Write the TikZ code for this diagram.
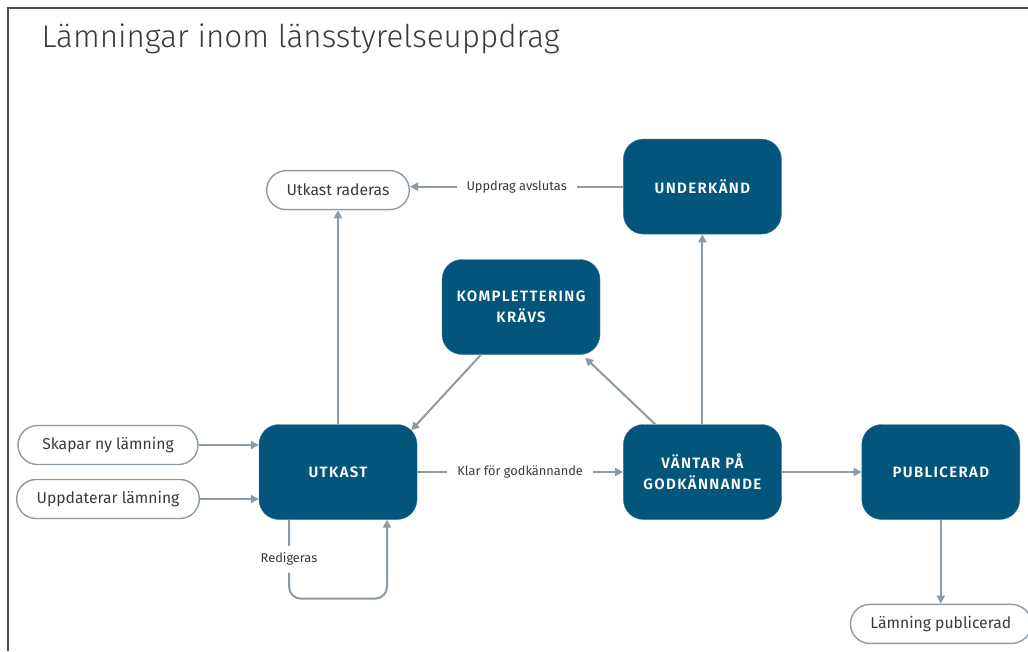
\documentclass[tikz,border=0pt]{standalone}
\usepackage{fontspec}
\setmainfont{Fira Sans}
\newfontfamily\titlefont{Fira Sans Light}
\newfontfamily\statefont[LetterSpace=9]{Fira Sans SemiBold}
\usetikzlibrary{positioning,arrows.meta}
\definecolor{lblue}{HTML}{03557C}
\definecolor{lgrey}{HTML}{8C9AA6}
\definecolor{ltext}{HTML}{3A3A3A}
\tikzset{state/.style={rectangle,rounded corners=20pt,fill=lblue,draw=lblue!80!white,
		minimum width=158pt,minimum height=95pt,align=center,text=white,
		font=\statefont\fontsize{15}{21}\selectfont},
	 endstate/.style={rectangle,rounded corners=19.5pt,draw=lgrey,line width=1.4pt,
		minimum height=39pt,inner xsep=20pt,text=ltext,font=\fontsize{15.7}{18}\selectfont},
	 arr/.style={draw=lgrey,line width=2pt,-{Triangle[length=8pt,width=8pt]}},
	 lbl/.style={fill=white,inner xsep=10pt,inner ysep=5pt,text=ltext,font=\fontsize{12.8}{15}\selectfont}
	 }

\begin{document}
\begin{tikzpicture}[x=1pt,y=-1pt] % statusflode
	\useasboundingbox (0,0) rectangle (1028,651);
	\draw[line width=1.5pt,black!70] (8,651) -- (8,8) -- (1028,8);
	\node[anchor=base west,text=ltext,font=\titlefont\fontsize{31.4}{36}\selectfont] (title) at (38,47) {Lämningar inom länsstyrelseuppdrag};
	\node[state] (utkast) at (338,472) {UTKAST};
	\node[state] (vantar) [right=206pt of utkast] {VÄNTAR PÅ\\GODKÄNNANDE};
	\node[state] (publ) [right=80pt of vantar] {PUBLICERAD};
	\node[state] (under) [above=190pt of vantar] {UNDERKÄND};
	\node[state] (kompl) at (521,307) {KOMPLETTERING\\KRÄVS};
	\node[endstate] (raderas) [above=214pt of utkast] {Utkast raderas};
	\node[endstate] (lpubl) [below=84pt of publ] {Lämning publicerad};
	\node[endstate,minimum width=180pt] (skapar) at (108,445) {Skapar ny lämning};
	\node[endstate,minimum width=180pt] (uppd) at (108,499) {Uppdaterar lämning};
	\draw[arr] (skapar) -- (skapar -| utkast.west);
	\draw[arr] (uppd) -- (uppd -| utkast.west);
	\draw[arr] (utkast) -- (raderas);
	\draw[arr] (under) -- node[lbl] {Uppdrag avslutas} (under -| raderas.east);
	\draw[arr] (utkast) -- node[lbl] {Klar för godkännande} (vantar);
	\draw[arr] (vantar) -- (publ);
	\draw[arr] (vantar) -- (under);
	\draw[arr] (publ) -- (lpubl);
	\draw[arr] (kompl.230) -- ([shift={(-6,6)}]utkast.north east);
	\draw[arr] ([xshift=32pt]vantar.north west) -- ([shift={(-15,3)}]kompl.south east);
	\draw[arr,rounded corners=12pt] ([xshift=-49pt]utkast.south) -- node[lbl,inner xsep=3pt,inner ysep=7pt] {Redigeras} ++(0,79) -| ([xshift=49pt]utkast.south);
\end{tikzpicture}
\end{document}
